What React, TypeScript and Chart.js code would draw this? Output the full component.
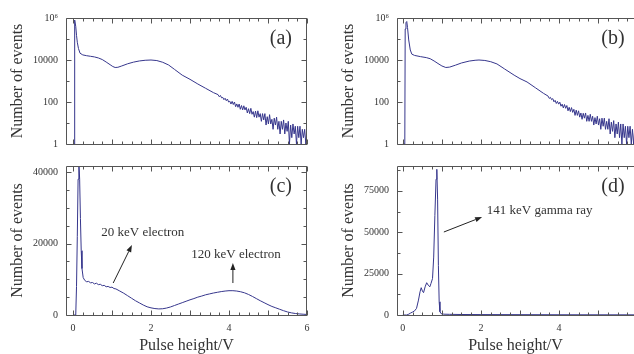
import React, { useEffect, useRef } from 'react';
import { Chart, registerables } from 'chart.js';
Chart.register(...registerables);

const FONT = '"Liberation Serif", "DejaVu Serif", serif';
const LINE = '#36368c';
const AXIS = '#555555';
const TEXT = '#333333';

// ---- tick values ----
const X_LABELS_LEFT = [0, 2, 4, 6];
const X_LABELS_RIGHT = [0, 2, 4];
const LOG_TICKS = [1, 10, 100, 1000, 10000, 100000, 1000000];
const LOG_LABELS = [1, 100, 10000, 1000000];
const C_TICKS = [0, 5000, 10000, 15000, 20000, 25000, 30000, 35000, 40000];
const C_LABELS = [0, 20000, 40000];
const D_TICKS = [0, 12500, 25000, 37500, 50000, 62500, 75000, 87500];
const D_LABELS = [0, 25000, 50000, 75000];

// ---- panel (a) ----
const aX = [0, 0.03, 0.035, 0.05, 0.07, 0.09, 0.11, 0.14, 0.18, 0.25, 0.35, 0.45, 0.55, 0.65, 0.75, 0.85, 0.95, 1.02, 1.08, 1.15, 1.25, 1.4, 1.55, 1.7, 1.85, 2.0, 2.15, 2.3, 2.45, 2.6, 2.8, 3.0, 3.2, 3.4, 3.6];
const aY = [1, 1, 600000, 800000, 400000, 150000, 70000, 35000, 21000, 17500, 16000, 15000, 14000, 12500, 10500, 8000, 6000, 4900, 4400, 4500, 5200, 6600, 7900, 9000, 9700, 10000, 9400, 7800, 5800, 3600, 1900, 1200, 720, 450, 280];

// ---- panel (b) ----
const bX = [0, 0.05, 0.06, 0.08, 0.1, 0.12, 0.15, 0.19, 0.23, 0.3, 0.45, 0.6, 0.7, 0.8, 0.9, 1.0, 1.1, 1.2, 1.35, 1.5, 1.7, 1.85, 1.95, 2.1, 2.25, 2.41, 2.6, 2.85, 3.0, 3.18, 3.4, 3.6];
const bY = [1, 1, 300000, 600000, 680000, 350000, 90000, 30000, 19000, 16500, 14500, 13000, 11500, 9000, 6800, 5200, 4400, 4600, 5700, 7200, 8900, 9700, 10000, 9500, 8300, 6500, 3800, 1900, 1300, 900, 470, 260];

// ---- noisy tails of (a) and (b) ----
const tailX = [3.72, 3.75, 3.78, 3.81, 3.84, 3.87, 3.90, 3.93, 3.96, 3.99,
  4.02, 4.05, 4.08, 4.11, 4.14, 4.17, 4.20, 4.23, 4.26, 4.29,
  4.32, 4.35, 4.38, 4.41, 4.44, 4.47, 4.50, 4.53, 4.56, 4.59,
  4.62, 4.65, 4.68, 4.71, 4.74, 4.77, 4.80, 4.83, 4.86, 4.89,
  4.92, 4.95, 4.98, 5.01, 5.04, 5.07, 5.10, 5.13, 5.16, 5.19,
  5.22, 5.25, 5.28, 5.31, 5.34, 5.37, 5.40, 5.43, 5.46, 5.49,
  5.52, 5.55, 5.58, 5.61, 5.64, 5.67, 5.70, 5.73, 5.76, 5.79,
  5.82, 5.85, 5.88, 5.91, 5.94, 5.97, 6.00];
const tailA = [224, 178, 204, 158, 166, 129, 151, 115, 138, 100,
  109, 80, 107, 76, 100, 60, 81, 56, 80, 45,
  68, 42, 66, 42, 56, 30, 48, 28, 50, 26,
  35, 19, 37, 18, 38, 19, 28, 12, 28, 14,
  28, 8, 20, 9, 25, 9, 15, 5, 17, 8,
  19, 5, 12, 3, 12, 5, 14, 3, 10, 4,
  12, 1, 8, 2, 9, 3, 7, 1, 7, 2,
  7, 1, 5, 2, 5, 1, 3];
const tailB = [191, 148, 166, 129, 145, 102, 120, 85, 107, 79,
  98, 63, 79, 52, 76, 50, 68, 38, 56, 35,
  54, 32, 45, 23, 41, 23, 38, 19, 30, 15,
  29, 17, 30, 12, 23, 12, 26, 12, 21, 8,
  18, 9, 21, 8, 16, 5, 17, 7, 17, 5,
  12, 5, 16, 3, 11, 4, 13, 2, 9, 3,
  11, 2, 9, 1, 9, 2, 7, 1, 7, 2,
  7, 1, 5, 1, 5, 2, 4];

// ---- panel (c) ----
const cX = [0, 0.07, 0.09, 0.11, 0.13, 0.15, 0.17, 0.19, 0.21, 0.23, 0.26, 0.3, 0.35, 0.4, 0.45, 0.5, 0.55, 0.6, 0.65, 0.7, 0.75, 0.8, 0.85, 0.9, 0.95, 1.0, 1.05, 1.1, 1.2, 1.3, 1.4, 1.5, 1.6, 1.7, 1.8, 1.9, 2.0, 2.1, 2.2, 2.3, 2.4, 2.5, 2.6, 2.7, 2.8, 2.9, 3.0, 3.1, 3.2, 3.3, 3.4, 3.5, 3.6, 3.7, 3.8, 3.9, 4.0, 4.1, 4.2, 4.3, 4.4, 4.5, 4.6, 4.7, 4.8, 4.9, 5.0, 5.1, 5.2, 5.3, 5.4, 5.5, 5.6, 5.7, 5.8, 5.9, 6.0];
const cY = [0, 0, 8000, 22000, 38000, 43000, 38000, 27000, 18000, 13000, 10500, 9700, 9300, 9400, 9000, 9100, 8700, 8900, 8500, 8600, 8200, 8300, 7900, 8000, 7700, 7800, 7400, 7300, 6700, 6100, 5400, 4700, 4000, 3400, 2800, 2300, 2000, 1800, 1700, 1750, 1950, 2250, 2650, 3050, 3450, 3850, 4250, 4600, 5000, 5300, 5650, 5900, 6150, 6350, 6550, 6700, 6800, 6800, 6700, 6500, 6200, 5750, 5200, 4600, 4000, 3450, 2900, 2400, 2000, 1600, 1200, 850, 600, 420, 300, 220, 150];

// ---- panel (d) ----
const dX = [0, 0.1, 0.15, 0.2, 0.25, 0.3, 0.35, 0.4, 0.44, 0.47, 0.5, 0.53, 0.57, 0.61, 0.65, 0.69, 0.72, 0.76, 0.79, 0.82, 0.85, 0.87, 0.89, 0.91, 0.93, 0.95, 0.98, 1.05, 1.2, 1.5, 2.0, 3.0, 4.0, 5.0, 6.0];
const dY = [0, 0, 500, 1200, 1800, 2500, 4000, 9000, 14000, 16500, 14500, 13500, 17000, 19500, 18000, 17000, 19000, 22000, 35000, 60000, 82000, 88000, 70000, 30000, 8000, 2000, 800, 500, 400, 300, 250, 200, 150, 120, 100];

// ---- annotations (data coordinates) ----
const C_NOTES = [
  { text: '20 keV electron', x: 1.79, y: 22950, align: 'center' },
  { text: '120 keV electron', x: 4.18, y: 16790, align: 'center' },
];
const C_ARROWS = [
  { x1: 1.03, y1: 8950, x2: 1.51, y2: 19590 },
  { x1: 4.1, y1: 8950, x2: 4.1, y2: 14550 },
];
const D_NOTES = [{ text: '141 keV gamma ray', x: 2.15, y: 62820, align: 'left' }];
const D_ARROWS = [{ x1: 1.05, y1: 50130, x2: 2.03, y2: 59190 }];

const W = 634;
const H = 354;
const Y_AXIS_W = 40;
const X_AXIS_H = 22;

const zip = (xs: number[], ys: number[]) => xs.map((x, i) => ({ x, y: ys[i] }));

const framePlugin = {
  id: 'frame',
  afterDatasetsDraw(chart: any) {
    const o = chart.options.plugins.frame;
    if (!o) return;
    const { ctx, chartArea: a } = chart;
    const xs = chart.scales.x;
    const ys = chart.scales.y;
    const p = (v: number) => Math.round(v) + 0.5;
    const L = p(a.left), R = p(a.right - 1), T = p(a.top), B = p(a.bottom);
    ctx.save();
    ctx.strokeStyle = AXIS;
    ctx.lineWidth = 1;
    ctx.beginPath();
    ctx.moveTo(L, T); ctx.lineTo(L, B);
    ctx.moveTo(L, T); ctx.lineTo(a.right, T);
    ctx.moveTo(L, B); ctx.lineTo(a.right, B);
    if (o.rightBorder) { ctx.moveTo(R, T); ctx.lineTo(R, B); }
    // x ticks (inward, top and bottom)
    for (let i = Math.ceil(xs.min * 4); i <= Math.floor(xs.max * 4); i++) {
      const x = p(xs.getPixelForValue(i / 4));
      const len = i % 4 === 0 ? 5 : 3;
      ctx.moveTo(x, T); ctx.lineTo(x, T + len);
      ctx.moveTo(x, B); ctx.lineTo(x, B - len);
    }
    // y ticks (inward, left and right)
    for (const v of o.yTicks) {
      const y = p(ys.getPixelForValue(v));
      const len = o.yLabels.includes(v) ? 5 : 3;
      ctx.moveTo(L, y); ctx.lineTo(L + len, y);
      if (o.rightBorder) { ctx.moveTo(R, y); ctx.lineTo(R - len, y); }
    }
    ctx.stroke();

    ctx.fillStyle = TEXT;
    // panel tag
    ctx.font = `20px ${FONT}`;
    ctx.textAlign = 'center';
    ctx.textBaseline = 'middle';
    ctx.fillText(o.tag, xs.getPixelForValue(o.tagX), a.top + 21);
    // y title
    ctx.save();
    ctx.translate(a.left - 48, (a.top + a.bottom) / 2);
    ctx.rotate(-Math.PI / 2);
    ctx.font = `16px ${FONT}`;
    ctx.textAlign = 'center';
    ctx.textBaseline = 'middle';
    ctx.fillText('Number of events', 0, 0);
    ctx.restore();
    // x title
    if (o.xTitle) {
      ctx.font = `16px ${FONT}`;
      ctx.textAlign = 'center';
      ctx.textBaseline = 'alphabetic';
      ctx.fillText('Pulse height/V', (a.left + a.right) / 2, a.bottom + 35);
    }
    // notes
    ctx.font = `13px ${FONT}`;
    ctx.textBaseline = 'middle';
    for (const n of o.notes) {
      ctx.textAlign = n.align;
      ctx.fillText(n.text, xs.getPixelForValue(n.x), ys.getPixelForValue(n.y));
    }
    // arrows
    ctx.strokeStyle = '#222';
    ctx.fillStyle = '#222';
    for (const ar of o.arrows) {
      const x1 = xs.getPixelForValue(ar.x1), y1 = ys.getPixelForValue(ar.y1);
      const x2 = xs.getPixelForValue(ar.x2), y2 = ys.getPixelForValue(ar.y2);
      const ang = Math.atan2(y2 - y1, x2 - x1);
      const hl = 7, hw = 2.6;
      const bx = x2 - hl * Math.cos(ang), by = y2 - hl * Math.sin(ang);
      ctx.beginPath();
      ctx.moveTo(x1, y1); ctx.lineTo(bx, by);
      ctx.stroke();
      ctx.beginPath();
      ctx.moveTo(x2, y2);
      ctx.lineTo(bx + hw * Math.sin(ang), by - hw * Math.cos(ang));
      ctx.lineTo(bx - hw * Math.sin(ang), by + hw * Math.cos(ang));
      ctx.closePath();
      ctx.fill();
    }
    ctx.restore();
  },
};

const fmtY = (v: number) => (v === 1000000 ? '10\u2076' : String(v));

const PANELS = [
  {
    key: 'a', data: zip(aX.concat(tailX), aY.concat(tailA)), log: true, yMin: 1, yMax: 1000000,
    yTicks: LOG_TICKS, yLabels: LOG_LABELS, xMin: -0.18, xMax: 6, xLabels: X_LABELS_LEFT, showX: false,
    area: { left: 66, right: 307, top: 18, bottom: 166 }, rightBorder: true, tag: '(a)', tagX: 5.33,
    notes: [], arrows: [],
  },
  {
    key: 'b', data: zip(bX.concat(tailX), bY.concat(tailB)), log: true, yMin: 1, yMax: 1000000,
    yTicks: LOG_TICKS, yLabels: LOG_LABELS, xMin: -0.15, xMax: 5.92, xLabels: X_LABELS_RIGHT, showX: false,
    area: { left: 397, right: 634, top: 18, bottom: 166 }, rightBorder: false, tag: '(b)', tagX: 5.38,
    notes: [], arrows: [],
  },
  {
    key: 'c', data: zip(cX, cY), log: false, yMin: 0, yMax: 41700,
    yTicks: C_TICKS, yLabels: C_LABELS, xMin: -0.18, xMax: 6, xLabels: X_LABELS_LEFT, showX: true,
    area: { left: 66, right: 307, top: 166, bottom: 315 }, rightBorder: true, tag: '(c)', tagX: 5.33,
    notes: C_NOTES, arrows: C_ARROWS,
  },
  {
    key: 'd', data: zip(dX, dY), log: false, yMin: 0, yMax: 90000,
    yTicks: D_TICKS, yLabels: D_LABELS, xMin: -0.15, xMax: 5.92, xLabels: X_LABELS_RIGHT, showX: true,
    area: { left: 397, right: 634, top: 166, bottom: 315 }, rightBorder: false, tag: '(d)', tagX: 5.38,
    notes: D_NOTES, arrows: D_ARROWS,
  },
];

function Panel({ cfg }: { cfg: any }) {
  const ref = useRef<HTMLCanvasElement | null>(null);
  useEffect(() => {
    if (!ref.current) return;
    const a = cfg.area;
    const chart = new Chart(ref.current, {
      type: 'line',
      data: {
        datasets: [{
          data: cfg.data,
          borderColor: LINE,
          borderWidth: 1,
          pointRadius: 0,
          tension: 0,
          fill: false,
        }],
      },
      options: {
        animation: false,
        responsive: false,
        events: [],
        layout: {
          autoPadding: false,
          padding: {
            left: a.left - Y_AXIS_W,
            right: W - a.right,
            top: a.top,
            bottom: H - a.bottom - (cfg.showX ? X_AXIS_H : 0),
          },
        },
        plugins: {
          legend: { display: false },
          tooltip: { enabled: false },
          frame: {
            yTicks: cfg.yTicks, yLabels: cfg.yLabels, rightBorder: cfg.rightBorder,
            tag: cfg.tag, tagX: cfg.tagX, notes: cfg.notes, arrows: cfg.arrows, xTitle: cfg.showX,
          },
        } as any,
        scales: {
          x: {
            type: 'linear',
            min: cfg.xMin,
            max: cfg.xMax,
            display: cfg.showX,
            afterBuildTicks: (s: any) => { s.ticks = cfg.xLabels.map((v: number) => ({ value: v })); },
            afterFit: (s: any) => { s.height = X_AXIS_H; },
            ticks: { font: { family: FONT, size: 10 }, color: TEXT, padding: 7, maxRotation: 0, autoSkip: false },
            grid: { display: false, drawTicks: false },
            border: { display: false },
          },
          y: {
            type: cfg.log ? 'logarithmic' : 'linear',
            min: cfg.yMin,
            max: cfg.yMax,
            afterBuildTicks: (s: any) => { s.ticks = cfg.yLabels.map((v: number) => ({ value: v })); },
            afterFit: (s: any) => { s.width = Y_AXIS_W; },
            ticks: {
              font: { family: FONT, size: 10 }, color: TEXT, padding: 8, autoSkip: false,
              callback: (v: any) => fmtY(Number(v)),
            },
            grid: { display: false, drawTicks: false },
            border: { display: false },
          },
        } as any,
      },
      plugins: [framePlugin as any],
    });
    return () => chart.destroy();
  }, [cfg]);
  return (
    <canvas
      ref={ref}
      width={W}
      height={H}
      style={{ position: 'absolute', left: 0, top: 0, width: W, height: H }}
    />
  );
}

export default function App() {
  return (
    <div style={{ position: 'fixed', left: 0, top: 0, width: W, height: H, background: '#ffffff', overflow: 'hidden' }}>
      {PANELS.map((p) => <Panel key={p.key} cfg={p} />)}
    </div>
  );
}
